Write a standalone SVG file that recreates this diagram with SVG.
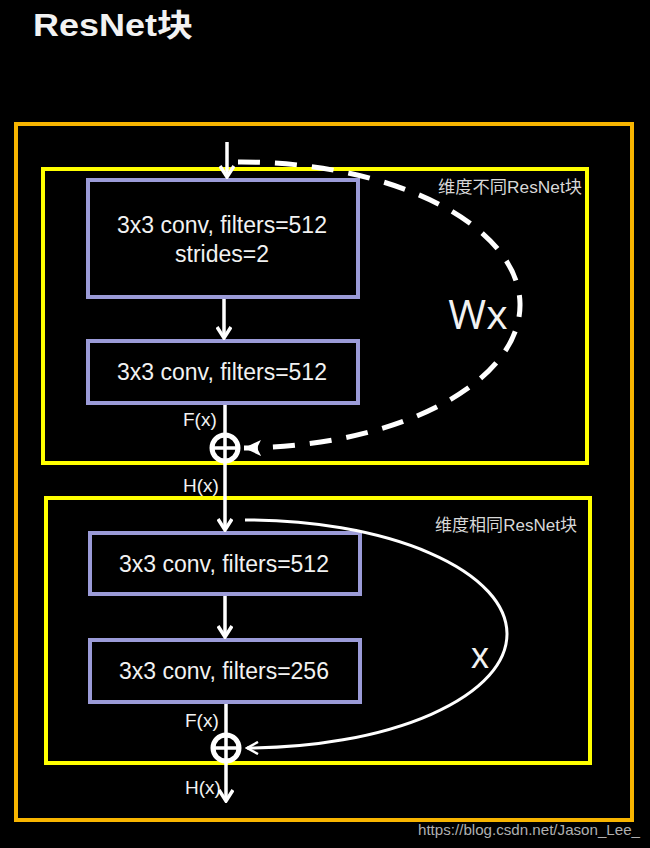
<svg xmlns="http://www.w3.org/2000/svg" width="650" height="848" viewBox="0 0 650 848">
  <defs>
    <style>
      .frame-outer { fill: none; stroke: #F8B500; stroke-width: 4; }
      .frame-block { fill: none; stroke: #FFFF00; stroke-width: 4; }
      .conv { fill: #000; stroke: #9B9BD8; stroke-width: 4; }
      .txt { font-family: "Liberation Sans", "Noto Sans CJK SC", sans-serif; fill: #F2F2F2; }
      .box-txt { font-size: 23px; text-anchor: middle; }
      .lbl { font-size: 19px; }
      .cap { font-size: 16.5px; fill: #D8D8D8; }
      .flow { fill: none; stroke: #FFFFFF; stroke-width: 3.5; }
      .skip-dash { fill: none; stroke: #FFFFFF; stroke-width: 5; stroke-dasharray: 22 15; }
      .skip-solid { fill: none; stroke: #FFFFFF; stroke-width: 3; }
      .sum-ring { fill: none; stroke: #FFFFFF; stroke-width: 5; }
      .sum-cross { stroke: #FFFFFF; stroke-width: 3.5; }
    </style>
    <marker id="chev" viewBox="0 0 14 16" refX="12" refY="8" markerWidth="14" markerHeight="16" markerUnits="userSpaceOnUse" orient="auto">
      <path d="M1,1 L12,8 L1,15" fill="none" stroke="#FFFFFF" stroke-width="3.5" stroke-linejoin="miter"/>
    </marker>
    <marker id="tri" viewBox="0 0 18 18" refX="17" refY="9" markerWidth="18" markerHeight="18" markerUnits="userSpaceOnUse" orient="auto">
      <path d="M0,1 L17,9 L0,17 L4,9 Z" fill="#FFFFFF"/>
    </marker>
    <marker id="thin" viewBox="0 0 14 14" refX="12" refY="7" markerWidth="14" markerHeight="14" markerUnits="userSpaceOnUse" orient="auto">
      <path d="M1,1 L12,7 L1,13" fill="none" stroke="#FFFFFF" stroke-width="2.5"/>
    </marker>
  </defs>

  <rect x="0" y="0" width="650" height="848" fill="#000"/>

  <text class="txt" x="33" y="36" font-size="31" font-weight="bold" textLength="160" lengthAdjust="spacingAndGlyphs" fill="#FFFFFF">ResNet块</text>

  <g id="frame">
    <rect class="frame-outer" x="16" y="124" width="616" height="696"/>
  </g>

  <g id="block-diff">
    <rect class="frame-block" x="43" y="169" width="544" height="294"/>
    <text class="txt cap" x="438" y="193" textLength="144" lengthAdjust="spacingAndGlyphs">维度不同ResNet块</text>
  </g>

  <g id="block-same">
    <rect class="frame-block" x="46" y="498" width="544" height="265"/>
    <text class="txt cap" x="435" y="531" textLength="142" lengthAdjust="spacingAndGlyphs">维度相同ResNet块</text>
  </g>

  <g id="conv1">
    <rect class="conv" x="88" y="180" width="270" height="117"/>
    <text class="txt box-txt" x="222" y="233">3x3 conv, filters=512</text>
    <text class="txt box-txt" x="222" y="262">strides=2</text>
  </g>

  <g id="conv2">
    <rect class="conv" x="88" y="341" width="270" height="62"/>
    <text class="txt box-txt" x="222" y="380">3x3 conv, filters=512</text>
  </g>

  <g id="conv3">
    <rect class="conv" x="90" y="533" width="270" height="61"/>
    <text class="txt box-txt" x="224" y="572">3x3 conv, filters=512</text>
  </g>

  <g id="conv4">
    <rect class="conv" x="90" y="640" width="270" height="62"/>
    <text class="txt box-txt" x="224" y="679">3x3 conv, filters=256</text>
  </g>

  <g id="sum1">
    <circle class="sum-ring" cx="225" cy="448" r="13"/>
    <line class="sum-cross" x1="212" y1="448" x2="238" y2="448"/>
    <line class="sum-cross" x1="225" y1="435" x2="225" y2="461"/>
  </g>

  <g id="sum2">
    <circle class="sum-ring" cx="226" cy="748" r="13"/>
    <line class="sum-cross" x1="213" y1="748" x2="239" y2="748"/>
    <line class="sum-cross" x1="226" y1="735" x2="226" y2="761"/>
  </g>

  <g id="labels">
    <text class="txt lbl" x="183" y="426">F(x)</text>
    <text class="txt lbl" x="183" y="492">H(x)</text>
    <text class="txt lbl" x="185" y="727">F(x)</text>
    <text class="txt lbl" x="185" y="794">H(x)</text>
    <text class="txt" x="478" y="329" font-size="41" text-anchor="middle" style="font-family:'Open Sans','Liberation Sans',sans-serif">Wx</text>
    <text class="txt" x="480" y="668" font-size="36" text-anchor="middle">x</text>
  </g>

  <g id="connectors">
    <line class="flow" x1="227" y1="142" x2="227" y2="177" marker-end="url(#chev)"/>
    <line class="flow" x1="224" y1="299" x2="224" y2="338" marker-end="url(#chev)"/>
    <line class="flow" x1="225" y1="405" x2="225" y2="435"/>
    <line class="flow" x1="225" y1="461" x2="225" y2="530" marker-end="url(#chev)"/>
    <line class="flow" x1="225" y1="596" x2="225" y2="637" marker-end="url(#chev)"/>
    <line class="flow" x1="226" y1="704" x2="226" y2="735"/>
    <line class="flow" x1="226" y1="761" x2="226" y2="801" marker-end="url(#chev)"/>
    <path class="skip-dash" d="M238,162 A279,143 0 0 1 244,448" marker-end="url(#tri)"/>
    <path class="skip-solid" d="M245,520 A261,114 0 0 1 247,748" marker-end="url(#thin)"/>
  </g>

  <text class="txt" x="418" y="835" font-size="15" style="fill:#B0B0B0" textLength="222" lengthAdjust="spacingAndGlyphs">https://blog.csdn.net/Jason_Lee_</text>
</svg>
